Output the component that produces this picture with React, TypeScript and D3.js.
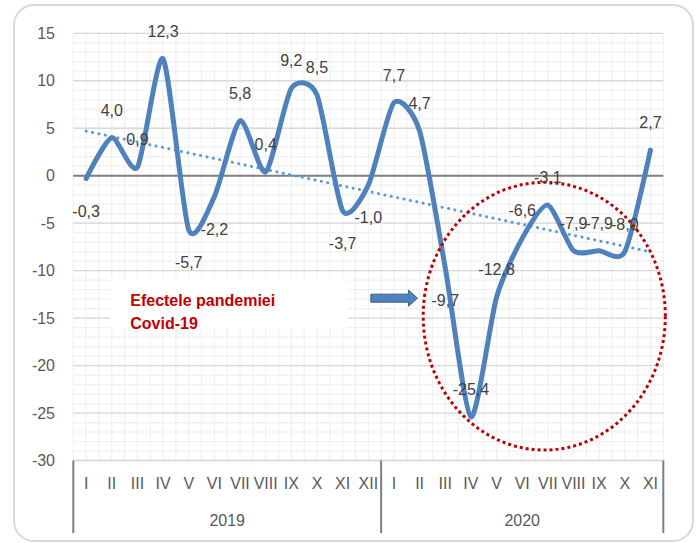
import React from "react";
import * as d3 from "d3";

const months = ["I","II","III","IV","V","VI","VII","VIII","IX","X","XI","XII","I","II","III","IV","V","VI","VII","VIII","IX","X","XI"];
const years = [
  { label: "2019", from: 0, to: 12 },
  { label: "2020", from: 12, to: 23 },
];
const values = [-0.3, 4.0, 0.9, 12.3, -5.7, -2.2, 5.8, 0.4, 9.2, 8.5, -3.7, -1.0, 7.7, 4.7, -9.7, -25.4, -12.8, -6.6, -3.1, -7.9, -7.9, -8.0, 2.7];
const labelPlacement = ["below","above","above","above","below","below","above","above","above","above","below","below","above","above","below","above","above","above","above","above","above","above","above"];
const yTicks = [15, 10, 5, 0, -5, -10, -15, -20, -25, -30];

// annotation in data coordinates (category index, value)
const note = { lines: ["Efectele pandemiei", "Covid-19"], x0: 0.94, x1: 10.2, y0: -10.8, y1: -16.05, tx: 1.72 };
const arrow = { x0: 11.1, x1: 12.92, y: -12.9 };
const ellipse = { cx: 17.86, cy: -14.8, rx: 4.72, ry: 14.1 };

const W = 696, H = 543;
const L = 73.3, R = 663.3, T = 33.3, B = 460.5;

export default function App() {
  const n = values.length;
  const x = d3.scaleLinear().domain([-0.5, n - 0.5]).range([L, R]);
  const y = d3.scaleLinear().domain([-30, 15]).range([B, T]);
  const fmt = (v: number) => v.toFixed(1).replace(".", ",");

  const line = d3.line<number>().x((_, i) => x(i)).y((d) => y(d)).curve(d3.curveCardinal.tension(0.3));

  // linear trend
  const xs = values.map((_, i) => i);
  const mx = d3.mean(xs)!, my = d3.mean(values)!;
  const slope = d3.sum(xs.map((xi, i) => (xi - mx) * (values[i] - my))) / d3.sum(xs.map((xi) => (xi - mx) ** 2));
  const icpt = my - slope * mx;

  const minorY = d3.range(-30, 16, 1);
  const minorX = d3.range(-0.5, n, 0.5);
  const ux = x(1) - x(0);
  const uy = y(0) - y(1);

  return (
    <svg width={W} height={H} style={{ position: "absolute", left: 0, top: 0, background: "#fff" }} fontFamily="'Liberation Sans', Arial, sans-serif">
      <rect x={14} y={5} width={679} height={536} rx={20} fill="#fff" stroke="#d9d9d9" strokeWidth={2} />
      {minorY.map((v) => (
        <line key={"hy" + v} x1={L} x2={R} y1={y(v)} y2={y(v)} stroke="#f0f0f0" strokeWidth={1.2} />
      ))}
      {minorX.map((v) => (
        <line key={"vx" + v} x1={x(v)} x2={x(v)} y1={T} y2={B} stroke="#f0f0f0" strokeWidth={1.2} />
      ))}
      {yTicks.map((v) => (
        <line key={"my" + v} x1={L} x2={R} y1={y(v)} y2={y(v)} stroke="#d9d9d9" strokeWidth={1.3} />
      ))}
      <line x1={L} x2={R} y1={y(0)} y2={y(0)} stroke="#808080" strokeWidth={2} />
      {yTicks.map((v) => (
        <text key={"yt" + v} x={55} y={y(v) + 5.5} textAnchor="end" fontSize={16} fill="#595959">{v}</text>
      ))}

      {/* annotation box */}
      <rect x={x(note.x0)} y={y(note.y0)} width={x(note.x1) - x(note.x0)} height={y(note.y1) - y(note.y0)} fill="#fff" />
      {note.lines.map((t, i) => (
        <text key={t} x={x(note.tx)} y={y(note.y0) + 28 + i * 22.5} fontSize={16} fontWeight="bold" fill="#c00000">{t}</text>
      ))}

      {/* trend */}
      <line x1={x(0)} y1={y(icpt)} x2={x(n - 1)} y2={y(icpt + slope * (n - 1))} stroke="#5b9bd5" strokeWidth={3} strokeLinecap="round" strokeDasharray="0.1 6.4" />

      <path d={line(values) ?? ""} fill="none" stroke="#4f81bd" strokeWidth={5} strokeLinejoin="round" strokeLinecap="round" />

      {/* ellipse */}
      <ellipse cx={x(ellipse.cx)} cy={y(ellipse.cy)} rx={ellipse.rx * ux} ry={ellipse.ry * uy} fill="none" stroke="#c00000" strokeWidth={3} strokeDasharray="3 3" />

      {/* arrow */}
      {(() => {
        const x0 = x(arrow.x0), x1 = x(arrow.x1), cy = y(arrow.y);
        const hx = x1 - 9;
        const p = [[x0, cy - 4], [hx, cy - 4], [hx, cy - 8], [x1, cy], [hx, cy + 8], [hx, cy + 4], [x0, cy + 4]];
        return <polygon points={p.map((q) => q.join(",")).join(" ")} fill="#4f81bd" stroke="#385d8a" strokeWidth={1} />;
      })()}

      {values.map((v, i) => (
        <text key={"dl" + i} x={x(i)} y={labelPlacement[i] === "above" ? y(v) - 22 : y(v) + 38} textAnchor="middle" fontSize={16} fill="#404040">{fmt(v)}</text>
      ))}

      {/* x axis */}
      <line x1={L} x2={R} y1={B} y2={B} stroke="#d9d9d9" strokeWidth={1.3} />
      {months.map((m, i) => (
        <text key={"m" + i} x={x(i)} y={489} textAnchor="middle" fontSize={16} fill="#595959">{m}</text>
      ))}
      {[0, 12, 23].map((c) => (
        <line key={"sep" + c} x1={x(c - 0.5)} x2={x(c - 0.5)} y1={B} y2={533} stroke="#7f7f7f" strokeWidth={2} />
      ))}
      {years.map((yr) => (
        <text key={yr.label} x={(x(yr.from - 0.5) + x(yr.to - 0.5)) / 2} y={526} textAnchor="middle" fontSize={16} fill="#595959">{yr.label}</text>
      ))}
    </svg>
  );
}
